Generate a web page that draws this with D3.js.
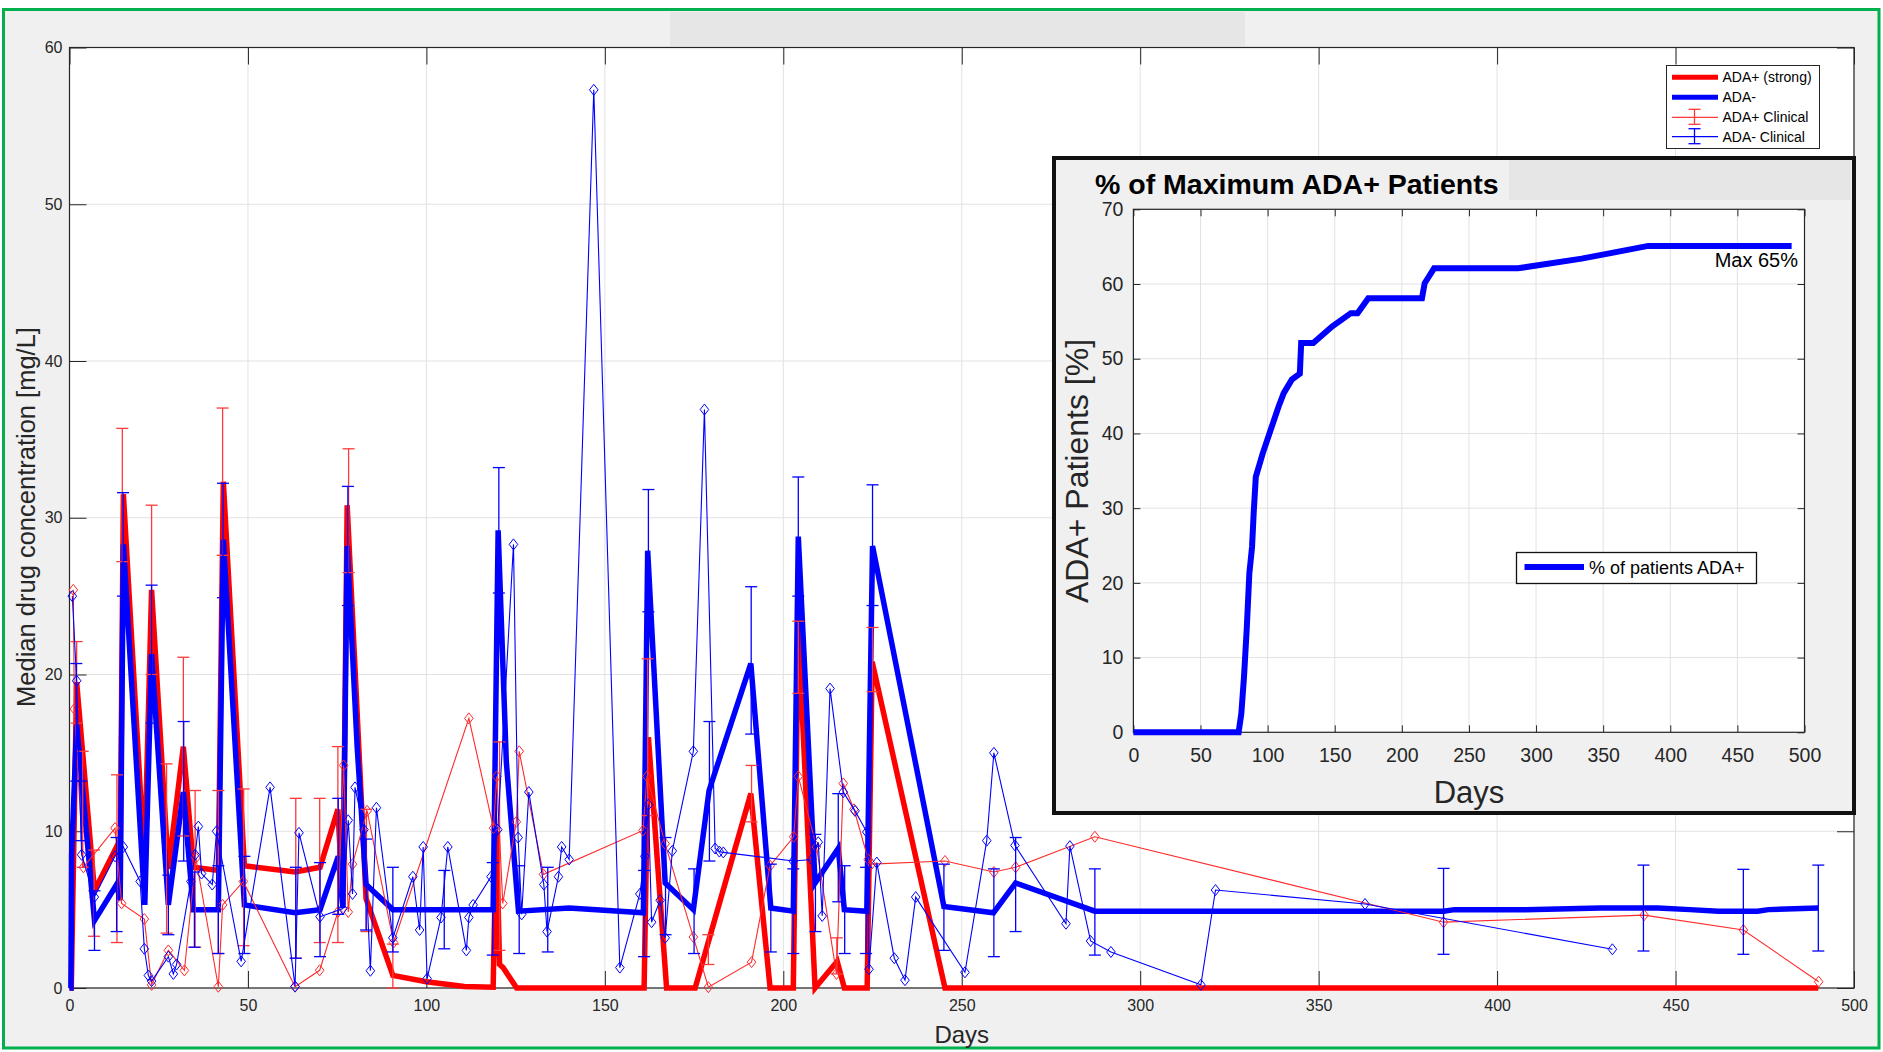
<!DOCTYPE html>
<html>
<head>
<meta charset="utf-8">
<script src="https://cdn.jsdelivr.net/npm/d3@7"></script>
<style>
  body { margin: 0; background: #ffffff; }
  svg { display: block; font-family: "Liberation Sans", Arial, sans-serif; }
</style>
</head>
<body>
<script>
// ---- data ----
var xTicks = [0, 50, 100, 150, 200, 250, 300, 350, 400, 450, 500];
var yTicks = [0, 10, 20, 30, 40, 50, 60];
var insetXTicks = [0, 50, 100, 150, 200, 250, 300, 350, 400, 450, 500];
var insetYTicks = [0, 10, 20, 30, 40, 50, 60, 70];
var legendLabels = ["ADA+ (strong)", "ADA-", "ADA+ Clinical", "ADA- Clinical"];

// ADA+ (strong) model median
var strongDays = [0, 0.5, 2, 7, 13.2, 14.2, 15.1, 21, 23, 27.7, 31.9, 34.7, 41.7, 43.1, 49, 63.2, 70.2, 75.2, 76.6, 77.8, 83.1, 90.6, 100, 110.6, 118.7, 119.6, 120.5, 121.5, 125.3, 161, 162.2, 167.3, 175.3, 190.9, 196.3, 202.8, 204.2, 208.9, 215.1, 217.1, 223.5, 224.9, 245.3, 490];
var strongVals = [0, 0, 19.5, 6.2, 9, 8, 31.5, 8, 25.4, 7.6, 15.4, 7.7, 7.5, 32.3, 7.8, 7.4, 7.7, 11.4, 5.3, 30.8, 5.7, 0.8, 0.4, 0.1, 0.05, 10, 1.5, 1.3, 0, 0, 16, 0, 0, 12.4, 0, 0, 23, 0, 1.7, 0, 0, 20.8, 0, 0];

// ADA- model median
var negDays = [0, 0.4, 0.6, 2, 7, 13.2, 14.2, 15.1, 21.1, 23, 27.7, 31.9, 34.7, 41.7, 43.1, 49, 63.2, 70.2, 75.3, 76.6, 77.8, 80.6, 83.1, 90.6, 118.7, 120.1, 122.4, 125.8, 140, 160.8, 162, 166.9, 174.8, 179.2, 190.9, 196.5, 202.8, 204.2, 208.9, 215.4, 217.1, 223.4, 225, 245, 258.9, 265.1, 287.3, 385, 388, 408, 429, 445, 454, 462, 473, 476, 490];
var negVals = [0, 0, 8.5, 16.8, 4.3, 6.6, 5.6, 28.3, 5.3, 21.3, 5.3, 12.5, 5.0, 5.0, 28.6, 5.3, 4.8, 5.0, 8.4, 5.1, 28.2, 15.4, 6.6, 5.0, 5.0, 29.2, 14.4, 4.9, 5.1, 4.8, 27.9, 6.7, 5.0, 12.6, 20.7, 5.1, 4.9, 28.8, 6.7, 8.9, 5.0, 4.9, 28.2, 5.2, 4.8, 6.7, 4.9, 4.9, 5.0, 5.0, 5.1, 5.1, 5.0, 4.9, 4.9, 5.0, 5.1];

// ADA+ clinical
var posClinDays = [1.07, 1.36, 3.9, 12.75, 14.6, 20.97, 23, 27.7, 32.2, 35.4, 41.7, 42.9, 48.7, 63.2, 70.1, 75.2, 76.8, 78.1, 79.3, 83.4, 90.8, 111.9, 118.8, 119.7, 121.4, 125.2, 126, 132.8, 160.7, 161.8, 166.9, 174.8, 179, 191.1, 196.3, 202.9, 204.2, 209.3, 214.9, 216.8, 219.8, 223.8, 224.7, 245.3, 259, 265.1, 287.3, 385, 441.2, 469, 490.1];
var posClinVals = [25.4, 17.8, 7.7, 10.2, 5.4, 4.4, 0.2, 2.4, 1.12, 8.3, 0.08, 5.3, 6.8, 0.08, 1.13, 4.85, 14.2, 4.85, 7.9, 11.3, 2.9, 17.2, 10.2, 13.5, 5.4, 10.6, 15.1, 7.25, 10.05, 13.5, 9.2, 3.25, 0.05, 1.65, 7.8, 9.65, 13.5, 9.0, 0.9, 13.05, 11.4, 8.2, 7.9, 8.1, 7.4, 7.7, 9.65, 4.2, 4.65, 3.7, 0.4];

// ADA- clinical
var negClinDays = [0.79, 2.0, 3.4, 6.96, 12.75, 15.08, 19.8, 20.97, 22.1, 23.0, 27.7, 29.1, 30.0, 34.0, 35.2, 36.1, 37.0, 40.0, 41.2, 48.1, 56.2, 63.2, 64.3, 70.2, 76.6, 78.1, 79.3, 80.0, 82.5, 84.3, 86.0, 90.6, 96.2, 98.1, 99.1, 100.2, 104.1, 106, 111.2, 111.9, 113.1, 118.1, 120, 124.4, 125.7, 126.7, 128.7, 132.9, 133.8, 137, 137.9, 140, 146.9, 154.2, 159.8, 161.2, 162.2, 163.1, 165.5, 166.9, 168.9, 174.8, 177.9, 180.9, 182.1, 183.2, 202.8, 208, 209.8, 210.9, 213.1, 216.8, 220.1, 223.4, 224, 226.2, 231.1, 234.1, 237.1, 250.9, 257, 259, 264.9, 279.2, 280.3, 286.1, 291.8, 317, 321.1, 363, 432.3];
var negClinVals = [25.0, 19.6, 8.5, 5.8, 8.4, 9.0, 6.8, 2.5, 0.8, 0.44, 2.0, 0.9, 1.5, 6.8, 8.5, 10.3, 7.3, 6.6, 10.0, 1.7, 12.8, 0.1, 9.9, 4.55, 5.07, 10.7, 6.0, 12.8, 10.1, 1.1, 11.5, 3.2, 7.1, 3.7, 9.0, 0.6, 4.5, 9.0, 2.4, 4.5, 5.3, 7.1, 10.1, 28.3, 9.6, 4.7, 12.5, 6.6, 3.6, 7.1, 9.0, 8.2, 57.3, 1.3, 6.0, 8.4, 11.7, 4.2, 5.6, 3.2, 8.75, 15.1, 36.9, 8.9, 8.7, 8.65, 8.1, 8.2, 9.3, 4.6, 19.1, 12.5, 11.3, 9.95, 1.2, 8.0, 1.9, 0.5, 5.8, 1.0, 9.4, 15.0, 9.1, 4.1, 9.05, 3.0, 2.3, 0.2, 6.25, 5.36, 2.47];

// error bars (red and blue)
var posErrDays = [2, 3.7, 6.9, 13.3, 14.8, 23, 27.2, 31.9, 35.2, 41.7, 42.9, 48.8, 63.4, 70.1, 75.2, 78.2, 83.2, 90.6, 120.5, 162, 179, 191.1, 204.2, 215, 225];
var posErrLow = [16.9, 7.7, 3.3, 2.9, 27.2, 20.0, 3.5, 9.7, 2.6, 2.2, 27.6, 2.7, 1.9, 2.9, 2.9, 26.5, 3.6, 0, 2.4, 11, 1.5, 10.6, 18.8, 0.9, 18.9];
var posErrHigh = [22.1, 15.1, 8.8, 13.6, 35.7, 30.8, 14.3, 21.1, 12.6, 12.6, 37.0, 12.7, 12.1, 12.1, 15.4, 34.4, 11.4, 2.8, 15.7, 21, 3.4, 14.2, 23.4, 3.2, 23.0];

var negErrDays = [1.9, 3.3, 7.0, 13.2, 15.0, 23.0, 27.7, 32.0, 35.0, 41.7, 43.0, 49.0, 63.4, 70.2, 75.3, 78.0, 83.1, 90.6, 105.0, 118.6, 120.3, 126.0, 134.0, 161.0, 162.2, 167.0, 175.0, 179.3, 191.0, 196.5, 202.8, 204.2, 209.0, 215.4, 217.2, 223.2, 225.0, 245.0, 259.0, 265.1, 287.3, 385, 441, 469, 490];
var negErrLow = [13.2, 9.4, 2.4, 3.6, 25.0, 16.9, 3.4, 8.1, 2.6, 2.2, 24.9, 2.2, 1.9, 2.0, 4.7, 24.4, 3.7, 2.3, 2.5, 2.1, 25.2, 2.2, 2.3, 2.0, 24.0, 3.4, 2.2, 8.1, 16.2, 2.3, 2.2, 25.0, 3.6, 5.5, 2.2, 2.2, 24.4, 2.4, 2.0, 3.6, 2.1, 2.15, 2.36, 2.15, 2.36];
var negErrHigh = [20.7, 13.2, 6.2, 9.6, 31.6, 25.7, 7.2, 17.0, 7.4, 7.8, 32.2, 8.4, 7.7, 8.0, 12.1, 32.0, 9.5, 7.7, 7.5, 8.0, 33.2, 7.8, 7.7, 7.5, 31.8, 9.6, 7.6, 17.0, 25.6, 7.9, 7.6, 32.6, 9.8, 12.4, 7.8, 7.7, 32.1, 7.9, 7.6, 9.6, 7.6, 7.63, 7.84, 7.57, 7.84];

// inset: % of patients ADA+
var insetDays = [0, 78.4, 80.4, 82.4, 84.4, 86.4, 88.4, 89.6, 91.2, 96.3, 102.3, 108.2, 112, 118, 124, 125, 134, 148, 162, 167, 175, 215, 217, 224, 286.5, 334, 383.5, 490.4];
var insetVals = [0, 0, 2.5, 7.4, 13.7, 21.3, 24.8, 29.3, 34.2, 37.3, 40.5, 43.6, 45.4, 47.2, 48.0, 52.1, 52.1, 54.3, 56.1, 56.1, 58.1, 58.1, 60.1, 62.1, 62.1, 63.4, 65.1, 65.1];

// ---- drawing ----
var W = 1883, H = 1052;
var svg = d3.select("body").append("svg")
    .attr("width", W)
    .attr("height", H)

// figure background and green frame
svg.append("rect")
    .attr("x", 3.5).attr("y", 9.5)
    .attr("width", 1875.5).attr("height", 1038.5)
    .attr("fill", "#f0f0f0")
    .attr("stroke", "#00b04f")
    .attr("stroke-width", 3)
svg.append("rect")
    .attr("x", 670).attr("y", 12)
    .attr("width", 575).attr("height", 34)
    .attr("fill", "#e6e6e6")

var axColor = "#262626";
var gridColor = "#e2e2e2";

var x = d3.scaleLinear().domain([0, 500]).range([69.5, 1854]);
var y = d3.scaleLinear().domain([0, 60]).range([988, 47.5]);

var main = svg.append("g")
main.append("rect")
    .attr("x", x(0)).attr("y", y(60))
    .attr("width", x(500) - x(0)).attr("height", y(0) - y(60))
    .attr("fill", "white")

// grid
main.selectAll(".gx").data(xTicks).enter().append("line")
    .attr("x1", function(d){ return x(d); }).attr("x2", function(d){ return x(d); })
    .attr("y1", y(0)).attr("y2", y(60))
    .attr("stroke", gridColor).attr("stroke-width", 1)
main.selectAll(".gy").data(yTicks).enter().append("line")
    .attr("x1", x(0)).attr("x2", x(500))
    .attr("y1", function(d){ return y(d); }).attr("y2", function(d){ return y(d); })
    .attr("stroke", gridColor).attr("stroke-width", 1)

function styleAxis(g, fs) {
    g.select(".domain").remove();
    g.selectAll("line").attr("stroke", axColor);
    g.selectAll("text").attr("fill", axColor).attr("font-size", fs);
}

main.append("g").attr("transform", "translate(0," + y(0) + ")")
    .call(d3.axisBottom(x).tickValues(xTicks).tickSizeInner(-17).tickSizeOuter(0).tickPadding(12))
    .call(styleAxis, 16)
main.append("g").attr("transform", "translate(0," + y(60) + ")")
    .call(d3.axisTop(x).tickValues(xTicks).tickSizeInner(-17).tickSizeOuter(0).tickFormat(""))
    .call(styleAxis, 16)
main.append("g").attr("transform", "translate(" + x(0) + ",0)")
    .call(d3.axisLeft(y).tickValues(yTicks).tickSizeInner(-17).tickSizeOuter(0).tickPadding(7))
    .call(styleAxis, 16)
main.append("g").attr("transform", "translate(" + x(500) + ",0)")
    .call(d3.axisRight(y).tickValues(yTicks).tickSizeInner(-17).tickSizeOuter(0).tickFormat(""))
    .call(styleAxis, 16)

main.append("rect")
    .attr("x", x(0)).attr("y", y(60))
    .attr("width", x(500) - x(0)).attr("height", y(0) - y(60))
    .attr("fill", "none").attr("stroke", axColor).attr("stroke-width", 1.2)

var line = d3.line()
    .x(function(d){ return x(d[0]); })
    .y(function(d){ return y(d[1]); })

var plot = main.append("g")

plot.append("path")
    .datum(d3.zip(strongDays, strongVals))
    .attr("d", line)
    .attr("fill", "none").attr("stroke", "#ff0000").attr("stroke-width", 5.5)
plot.append("path")
    .datum(d3.zip(negDays, negVals))
    .attr("d", line)
    .attr("fill", "none").attr("stroke", "#0000ff").attr("stroke-width", 5.5)

function errorBars(days, lo, hi, color, width) {
    var rows = d3.zip(days, lo, hi);
    var g = plot.append("g").attr("stroke", color).attr("stroke-width", width);
    g.selectAll(".v").data(rows).enter().append("line")
        .attr("x1", function(d){ return x(d[0]); }).attr("x2", function(d){ return x(d[0]); })
        .attr("y1", function(d){ return y(d[1]); }).attr("y2", function(d){ return y(d[2]); })
    g.selectAll(".lo").data(rows).enter().append("line")
        .attr("x1", function(d){ return x(d[0]) - 6; }).attr("x2", function(d){ return x(d[0]) + 6; })
        .attr("y1", function(d){ return y(d[1]); }).attr("y2", function(d){ return y(d[1]); })
    g.selectAll(".hi").data(rows).enter().append("line")
        .attr("x1", function(d){ return x(d[0]) - 6; }).attr("x2", function(d){ return x(d[0]) + 6; })
        .attr("y1", function(d){ return y(d[2]); }).attr("y2", function(d){ return y(d[2]); })
}

var diamond = "M0,-5.5L4.3,0L0,5.5L-4.3,0Z";

function clinical(days, vals, color, width) {
    var pts = d3.zip(days, vals);
    plot.append("path")
        .datum(pts)
        .attr("d", line)
        .attr("fill", "none").attr("stroke", color).attr("stroke-width", width)
    plot.append("g").selectAll("path").data(pts).enter().append("path")
        .attr("d", diamond)
        .attr("transform", function(d){ return "translate(" + x(d[0]) + "," + y(d[1]) + ")"; })
        .attr("fill", "none").attr("stroke", color).attr("stroke-width", 1)
}

errorBars(posErrDays, posErrLow, posErrHigh, "#ff3a3a", 1.3)
clinical(posClinDays, posClinVals, "#ff2a2a", 1.1)
errorBars(negErrDays, negErrLow, negErrHigh, "#0000ff", 1.3)
clinical(negClinDays, negClinVals, "#0000ff", 1.1)

// axis labels
main.append("text")
    .attr("x", (x(0) + x(500)) / 2).attr("y", 1043)
    .attr("text-anchor", "middle")
    .attr("font-size", 24).attr("fill", axColor)
    .text("Days")
main.append("text")
    .attr("transform", "translate(35,517) rotate(-90)")
    .attr("text-anchor", "middle")
    .attr("font-size", 25.5).attr("fill", axColor)
    .text("Median drug concentration [mg/L]")

// main legend
var leg = svg.append("g")
leg.append("rect")
    .attr("x", 1666.5).attr("y", 65.5)
    .attr("width", 153).attr("height", 83)
    .attr("fill", "white").attr("stroke", axColor).attr("stroke-width", 1)
var legY = [77.3, 97.3, 117.3, 136.7];
var legColor = ["#ff0000", "#0000ff", "#ff3a3a", "#0000ff"];
var legWidth = [5, 5, 1.3, 1.3];
leg.selectAll(".ll").data(legendLabels).enter().append("line")
    .attr("x1", 1672).attr("x2", 1718)
    .attr("y1", function(d, i){ return legY[i]; }).attr("y2", function(d, i){ return legY[i]; })
    .attr("stroke", function(d, i){ return legColor[i]; })
    .attr("stroke-width", function(d, i){ return legWidth[i]; })
leg.selectAll(".lt").data(legendLabels).enter().append("text")
    .attr("x", 1722.5)
    .attr("y", function(d, i){ return legY[i] + 5; })
    .attr("font-size", 14).attr("fill", "#000")
    .text(function(d){ return d; })
;[2, 3].forEach(function(i){
    var cx = 1694.5, cy = legY[i];
    var g = leg.append("g").attr("stroke", legColor[i]).attr("stroke-width", 1.3);
    g.append("line").attr("x1", cx).attr("x2", cx).attr("y1", cy - 8).attr("y2", cy + 7);
    g.append("line").attr("x1", cx - 6).attr("x2", cx + 6).attr("y1", cy - 8).attr("y2", cy - 8);
    g.append("line").attr("x1", cx - 6).attr("x2", cx + 6).attr("y1", cy + 7).attr("y2", cy + 7);
})

// ---- inset ----
var inset = svg.append("g")
inset.append("rect")
    .attr("x", 1054).attr("y", 158)
    .attr("width", 800).attr("height", 655)
    .attr("fill", "#f0f0f0").attr("stroke", "#111").attr("stroke-width", 4)
inset.append("rect")
    .attr("x", 1509).attr("y", 160)
    .attr("width", 342).attr("height", 40)
    .attr("fill", "#e6e6e6")

var xi = d3.scaleLinear().domain([0, 500]).range([1133.4, 1804.5]);
var yi = d3.scaleLinear().domain([0, 70]).range([732.3, 209.3]);

inset.append("rect")
    .attr("x", xi(0)).attr("y", yi(70))
    .attr("width", xi(500) - xi(0)).attr("height", yi(0) - yi(70))
    .attr("fill", "white")
inset.selectAll(".gx").data(insetXTicks).enter().append("line")
    .attr("x1", function(d){ return xi(d); }).attr("x2", function(d){ return xi(d); })
    .attr("y1", yi(0)).attr("y2", yi(70))
    .attr("stroke", gridColor)
inset.selectAll(".gy").data(insetYTicks).enter().append("line")
    .attr("x1", xi(0)).attr("x2", xi(500))
    .attr("y1", function(d){ return yi(d); }).attr("y2", function(d){ return yi(d); })
    .attr("stroke", gridColor)

inset.append("g").attr("transform", "translate(0," + yi(0) + ")")
    .call(d3.axisBottom(xi).tickValues(insetXTicks).tickSizeInner(-7).tickSizeOuter(0).tickPadding(16))
    .call(styleAxis, 19.5)
inset.append("g").attr("transform", "translate(0," + yi(70) + ")")
    .call(d3.axisTop(xi).tickValues(insetXTicks).tickSizeInner(-7).tickSizeOuter(0).tickFormat(""))
    .call(styleAxis, 19.5)
inset.append("g").attr("transform", "translate(" + xi(0) + ",0)")
    .call(d3.axisLeft(yi).tickValues(insetYTicks).tickSizeInner(-7).tickSizeOuter(0).tickPadding(10))
    .call(styleAxis, 19.5)
inset.append("g").attr("transform", "translate(" + xi(500) + ",0)")
    .call(d3.axisRight(yi).tickValues(insetYTicks).tickSizeInner(-7).tickSizeOuter(0).tickFormat(""))
    .call(styleAxis, 19.5)
inset.append("rect")
    .attr("x", xi(0)).attr("y", yi(70))
    .attr("width", xi(500) - xi(0)).attr("height", yi(0) - yi(70))
    .attr("fill", "none").attr("stroke", axColor).attr("stroke-width", 1.2)

var lineI = d3.line()
    .x(function(d){ return xi(d[0]); })
    .y(function(d){ return yi(d[1]); })
inset.append("path")
    .datum(d3.zip(insetDays, insetVals))
    .attr("d", lineI)
    .attr("fill", "none").attr("stroke", "#0000ff").attr("stroke-width", 6)

inset.append("text")
    .attr("x", 1095).attr("y", 194)
    .attr("font-size", 28.5).attr("font-weight", "bold").attr("fill", "#000")
    .text("% of Maximum ADA+ Patients")
inset.append("text")
    .attr("x", (xi(0) + xi(500)) / 2).attr("y", 803)
    .attr("text-anchor", "middle")
    .attr("font-size", 31).attr("fill", axColor)
    .text("Days")
inset.append("text")
    .attr("transform", "translate(1088,471) rotate(-90)")
    .attr("text-anchor", "middle")
    .attr("font-size", 32).attr("fill", axColor)
    .text("ADA+ Patients [%]")
inset.append("text")
    .attr("x", 1798).attr("y", 267)
    .attr("text-anchor", "end")
    .attr("font-size", 20).attr("fill", "#000")
    .text("Max " + d3.max(insetVals).toFixed(0) + "%")

inset.append("rect")
    .attr("x", 1516.5).attr("y", 552.5)
    .attr("width", 240).attr("height", 31)
    .attr("fill", "white").attr("stroke", "#111").attr("stroke-width", 1.3)
inset.append("line")
    .attr("x1", 1524.5).attr("x2", 1584)
    .attr("y1", 567).attr("y2", 567)
    .attr("stroke", "#0000ff").attr("stroke-width", 6)
inset.append("text")
    .attr("x", 1589).attr("y", 574)
    .attr("font-size", 18).attr("fill", "#000")
    .text("% of patients ADA+")
</script>
</body>
</html>
